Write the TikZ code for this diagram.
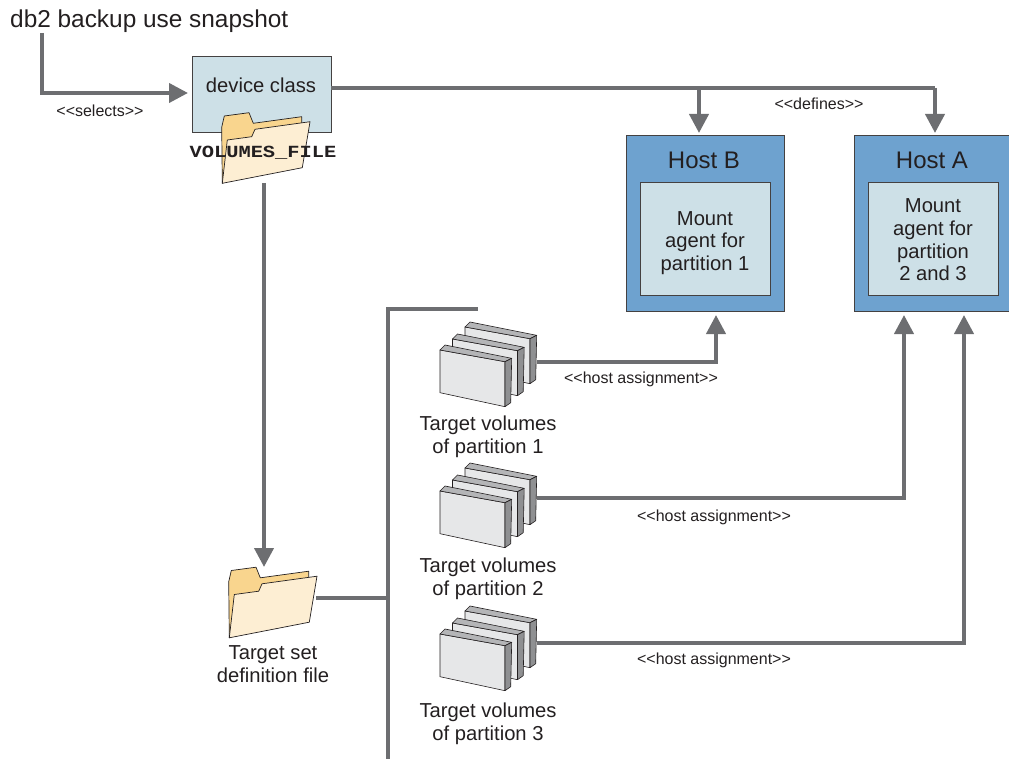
\documentclass[tikz,border=0pt]{standalone}
\usepackage{fontspec}
\setmainfont{Liberation Sans}
\newfontfamily\volfont[FakeStretch=1.2]{Liberation Mono}
\usetikzlibrary{arrows.meta}
\definecolor{conn}{HTML}{6D6E71}
\definecolor{ink}{HTML}{231F20}
\definecolor{pale}{HTML}{CDE0E7}
\definecolor{hostblue}{HTML}{6EA2CF}
\definecolor{fback}{HTML}{F9D58E}
\definecolor{ffront}{HTML}{FDEED3}
\definecolor{vfront}{HTML}{E6E7E8}
\definecolor{vtop}{HTML}{B4B5B7}
\definecolor{vside}{HTML}{8F9092}
\tikzset{
  x=1pt,y=-1pt,
  every node/.style={text=ink,inner sep=0pt,align=center},
  conn/.style={draw=conn,line width=4pt},
  arr/.style={conn,-{Triangle[length=19pt,width=19pt]},shorten >=-1pt},
  labl/.style={font=\fontsize{16}{19}\selectfont},
  body/.style={font=\fontsize{20.2}{22.7}\selectfont},
  pale box/.style={draw=ink!85,line width=0.9pt,fill=pale},
  host box/.style={draw=ink!85,line width=0.9pt,fill=hostblue},
  folder/.pic={
    \draw[draw=ink,line width=0.7pt,fill=fback,line join=round]
      (222.3,183.3)--(221.7,127.3)--(224.3,116)--(249,112.7)--(253.3,123.3)--(301.7,116.7)--(301.7,125)--(270,160)--cycle;
    \draw[draw=ink,line width=0.7pt,fill=ffront,line join=round]
      (222.3,183.3)--(227.3,140)--(251.7,136.7)--(255,129.3)--(310,121.7)--(302.3,167.7)--cycle;
  },
  vslab/.pic={
    \draw[draw=ink,line width=0.6pt,fill=vfront,line join=round] (440,350)--(505,361.7)--(505,406.7)--(440,392.7)--cycle;
    \draw[draw=ink,line width=0.6pt,fill=vtop,line join=round] (440,350)--(445,345)--(511.7,358.3)--(505,361.7)--cycle;
    \draw[draw=ink,line width=0.6pt,fill=vside,line join=round] (505,361.7)--(511.7,358.3)--(510.7,402.7)--(505,406.7)--cycle;
  },
  vstack/.pic={
    \pic at (25,-23) {vslab};
    \pic at (12.5,-11) {vslab};
    \pic at (0,0) {vslab};
  },
}
\begin{document}
\begin{tikzpicture}
\useasboundingbox (0,0) rectangle (1009,759);
% title and named anchors
\node[anchor=west,font=\fontsize{24.4}{28}\selectfont] (title) at (10,21) {db2 backup use snapshot};
\coordinate (titleout) at (42,33);
\coordinate (selIn) at (187,93);
\node[pale box,minimum width=139pt,minimum height=76pt,anchor=north west] (device) at (191.5,56.5) {};
\node[font=\fontsize{20.2}{24}\selectfont] (devlabel) at (261,85) {device class};
% hosts
\node[host box,minimum width=158pt,minimum height=175pt,anchor=north west] (hostB) at (625.5,135.5) {};
\node[host box,minimum width=156pt,minimum height=175pt,anchor=north west] (hostA) at (853.5,135.5) {};
\node[font=\fontsize{24}{28}\selectfont] (hostBt) at (704,160) {Host B};
\node[font=\fontsize{24}{28}\selectfont] (hostAt) at (932,160) {Host A};
\node[pale box,minimum width=130pt,minimum height=113pt,anchor=north west] (agentB) at (639.5,182.5) {};
\node[pale box,minimum width=130pt,minimum height=113pt,anchor=north west] (agentA) at (867.5,182.5) {};
\node[body] (agentBt) at (705,243) {Mount\\agent for\\partition 1};
\node[body] (agentAt) at (933,240) {Mount\\agent for\\partition\\2 and 3};
% connector anchors
\coordinate (fold1) at (264,183);
\coordinate (fold2) at (264,566);
\coordinate (fold2out) at (316,598);
\coordinate (busJ) at (388,598);
\coordinate (busTop) at (388,309);
\coordinate (busEnd) at (478,309);
\coordinate (busBot) at (388,759);
\coordinate (v1) at (537,362);
\coordinate (v2) at (537,498);
\coordinate (v3) at (537,643);
\coordinate (hB) at (716,316);
\coordinate (hA1) at (904,316);
\coordinate (hA2) at (964,316);
\coordinate (d1) at (699,88);
\coordinate (dB) at (699,132);
\coordinate (d2) at (935,88);
\coordinate (dA) at (935,132);
% connectors
\draw[arr] (titleout) |- (selIn);
\draw[conn] (device.east |- d1) -- (d2);
\draw[arr] (d1) -- (dB);
\draw[arr] (d2) -- (dA);
\draw[arr] (fold1) -- (fold2);
\draw[conn] (fold2out) -- (busJ);
\draw[conn] (busBot) -- (busTop) -- (busEnd);
\draw[arr] (v1) -| (hB);
\draw[arr] (v2) -| (hA1);
\draw[arr] (v3) -| (hA2);
% folders
\pic {folder};
\pic at (7,454.5) {folder};
\node[font=\volfont\bfseries\fontsize{17}{20}\selectfont] (volfile) at (263,152.5) {VOLUMES\_FILE};
% volume stacks
\pic at (0,0) {vstack};
\pic at (0,141) {vstack};
\pic at (0,284) {vstack};
% labels
\node[labl] (sel) at (100,110.5) {<{}<selects>{}>};
\node[labl] (def) at (819,103.5) {<{}<defines>{}>};
\node[labl] (ha1) at (641,379) {<{}<host assignment>{}>};
\node[labl] (ha2) at (714,517) {<{}<host assignment>{}>};
\node[labl] (ha3) at (714,660) {<{}<host assignment>{}>};
\node[body] (tv1) at (488,436.5) {Target volumes\\of partition 1};
\node[body] (tv2) at (488,578.5) {Target volumes\\of partition 2};
\node[body] (tv3) at (488,724) {Target volumes\\of partition 3};
\node[body] (tsd) at (273,664) {Target set\\definition file};
\end{tikzpicture}
\end{document}
